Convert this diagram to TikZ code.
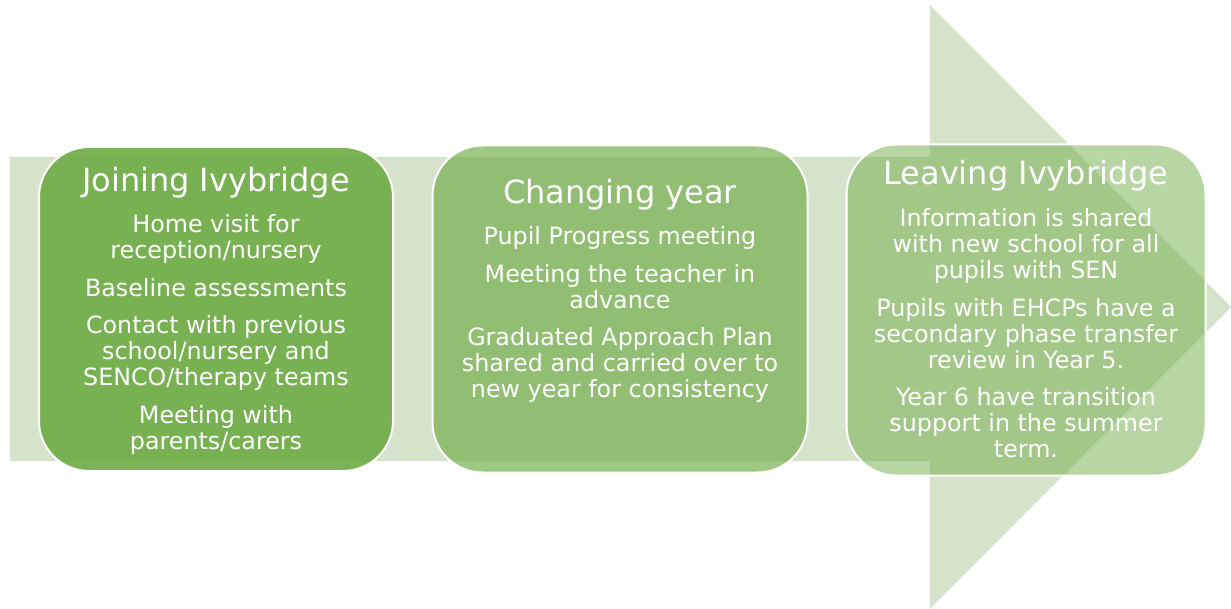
\documentclass[tikz,border=0pt]{standalone}
\usepackage{fontspec}
\setmainfont{DejaVu Sans}
\usetikzlibrary{positioning}

\definecolor{ivygreen}{HTML}{70AD47}
\definecolor{arrowgreen}{HTML}{D5E3CB}
\newcommand{\stagetitle}[1]{{\fontsize{32}{32}\selectfont #1}}

\begin{document}
\begin{tikzpicture}[
  stagebox/.style={rectangle,rounded corners=50pt,draw=white,line width=2pt,fill=ivygreen},
  stagetext/.style={text=white,align=center,inner sep=0pt,font=\fontsize{23.8}{26}\selectfont}
]

\useasboundingbox (0,0) rectangle (1231pt,-609pt);

% big arrow behind the three stages
\fill [arrowgreen] (10pt,-157pt) -- (930pt,-157pt) -- (930pt,-5pt) -- (1231pt,-307pt) -- (930pt,-609pt) -- (930pt,-461pt) -- (10pt,-461pt) -- cycle;

\node (joining) at (216pt,-309pt) [stagebox,fill opacity=.92,minimum width=354pt,minimum height=324pt] {};
\node (changing) at (620pt,-309pt) [stagebox,fill opacity=.67,minimum width=375pt,minimum height=327pt] {};
\node (leaving) at (1026pt,-310pt) [stagebox,fill opacity=.5,minimum width=359pt,minimum height=331pt] {};

\node (joiningtext) [stagetext,below=20.7pt of joining.north] {\stagetitle{Joining Ivybridge}\\[15.5pt]
Home visit for\\reception/nursery\\[11.5pt]
Baseline assessments\\[11.5pt]
Contact with previous\\school/nursery and\\SENCO/therapy teams\\[11.5pt]
Meeting with\\parents/carers};

\node (changingtext) [stagetext,below=34pt of changing.north] {\stagetitle{Changing year}\\[15.5pt]
Pupil Progress meeting\\[11.5pt]
Meeting the teacher in\\advance\\[11.5pt]
Graduated Approach Plan\\shared and carried over to\\new year for consistency};

\node (leavingtext) [stagetext,below=16.2pt of leaving.north] {\stagetitle{Leaving Ivybridge}\\[16.5pt]
Information is shared\\with new school for all\\pupils with SEN\\[11.5pt]
Pupils with EHCPs have a\\secondary phase transfer\\review in Year 5.\\[11.5pt]
Year 6 have transition\\support in the summer\\term.};

\end{tikzpicture}
\end{document}
